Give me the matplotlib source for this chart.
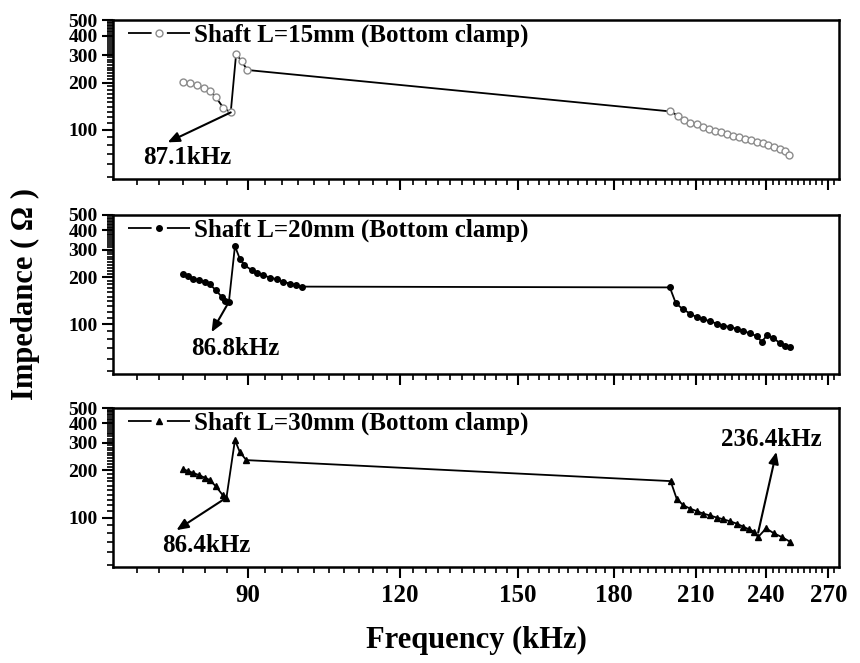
import matplotlib.pyplot as plt
from matplotlib.lines import Line2D
from matplotlib.legend_handler import HandlerTuple
from matplotlib.ticker import NullFormatter

plt.rcParams['font.family'] = ['Liberation Serif', 'DejaVu Serif']
plt.rcParams['font.weight'] = 'bold'
plt.rcParams['lines.scale_dashes'] = False

# Shaft L=15mm
freq_15 = [79.6, 80.6, 81.7, 82.8, 83.7, 84.7, 85.9, 87.1, 88.0, 88.9, 89.9,
           200.0, 203.2, 205.4, 207.8, 210.4, 213.0, 215.4, 217.8, 220.3, 222.7,
           225.5, 227.9, 230.6, 233.1, 235.7, 238.4, 241.0, 243.6, 246.4, 248.7, 250.7]
imp_15 = [203, 198, 193, 185, 178, 161, 138, 129, 307, 274, 241,
          131, 123, 116, 111, 108, 103.5, 101, 98.5, 96, 93.8,
          91.5, 89.8, 87.1, 85.4, 83.8, 81.7, 79.8, 77.8, 75.2, 72.6, 68.8]

# Shaft L=20mm
freq_20 = [79.6, 80.3, 81.1, 82.0, 82.9, 83.7, 84.7, 85.6, 86.2, 86.8, 87.8,
           88.6, 89.4, 90.6, 91.6, 92.6, 93.8, 95.0, 96.2, 97.4, 98.6, 99.7,
           200.0, 202.3, 205.1, 207.8, 210.4, 213.0, 215.8, 218.5, 221.3, 224.1,
           227.0, 229.8, 232.8, 235.7, 238.0, 240.5, 243.3, 246.4, 248.8, 251.1]
imp_20 = [209, 203, 196, 191, 187, 180, 165, 150, 140, 139, 316,
          263, 239, 222, 213, 206, 199, 194, 187, 182, 178, 174,
          172, 136, 124.5, 117, 111, 107.6, 104.5, 101, 98, 96,
          93.5, 90.5, 87.3, 84, 77.3, 85, 81.6, 75.5, 73, 71]

# Shaft L=30mm
freq_30 = [79.6, 80.3, 81.1, 82.0, 82.9, 83.7, 84.7, 85.8, 86.4, 87.8, 88.6, 89.7,
           200.3, 202.6, 205.1, 207.8, 210.4, 213.0, 215.8, 218.5, 221.3, 224.1,
           227.0, 229.8, 232.2, 234.5, 236.4, 240.0, 243.5, 247.2, 251.1]
imp_30 = [203, 199, 193, 187, 180, 174, 158, 139, 134, 313, 263, 233,
          171, 132, 120, 114, 110, 106, 103, 100, 97.5, 94.6,
          91.4, 87.4, 84.2, 81.3, 75.0, 85.2, 79.3, 75.0, 70]

labels = ['Shaft L=15mm (Bottom clamp)',
          'Shaft L=20mm (Bottom clamp)',
          'Shaft L=30mm (Bottom clamp)']

x_major = [90, 120, 150, 180, 210, 240, 270]
x_minor = [72.9, 76.0, 79.6, 83.0, 86.5] + [v for v in range(93, 276, 3) if v not in x_major]
y_major = [100, 200, 300, 400, 500]
y_minor = [v for v in range(50, 500, 10) if v not in y_major]

# (label, arrow tail, arrow head, text centre) in data units
notes_15 = [('87.1kHz', (87.1, 129), (77.3, 83), (80.2, 66))]
notes_20 = [('86.8kHz', (86.8, 139), (84.0, 89), (87.9, 70))]
notes_30 = [('86.4kHz', (86.4, 134), (78.6, 83), (83.1, 66)),
            ('236.4kHz', (236.4, 80), (244.7, 263), (242.5, 318))]

series = [(freq_15, imp_15, notes_15, dict(marker='o', mfc='white', mec='#8c8c8c', ms=5, mew=1)),
          (freq_20, imp_20, notes_20, dict(marker='o', mfc='black', mec='black', ms=4)),
          (freq_30, imp_30, notes_30, dict(marker='^', mfc='black', mec='black', ms=5))]

W, H = 860, 663
left, right = 113, 839
tops = [20.5, 215, 408.3]
ph = 159

fig = plt.figure(figsize=(W / 100, H / 100), dpi=100)

for i, ((f, z, notes, style), label, top) in enumerate(zip(series, labels, tops)):
    ax = fig.add_axes([left / W, 1 - (top + ph) / H, (right - left) / W, ph / H])
    ax.plot(f, z, color='black', lw=1.3, **style)

    ax.set_xscale('log')
    ax.set_yscale('log')
    ax.set_xlim(69.7, 275.5)
    ax.set_ylim(48, 500)

    ax.set_xticks(x_major)
    ax.set_xticks(x_minor, minor=True)
    ax.set_yticks(y_major)
    ax.set_yticks(y_minor, minor=True)
    ax.set_yticklabels([str(v) for v in y_major])
    if i == 2:
        ax.set_xticklabels([str(v) for v in x_major])
    else:
        ax.set_xticklabels([])
    ax.xaxis.set_minor_formatter(NullFormatter())
    ax.yaxis.set_minor_formatter(NullFormatter())

    ax.tick_params(which='both', direction='out', top=False, right=False, width=1.5)
    ax.tick_params(which='major', length=8)
    ax.tick_params(which='minor', length=4, width=1.2)
    ax.tick_params(axis='x', labelsize=18, pad=4)
    ax.tick_params(axis='y', labelsize=14, pad=3)
    for sp in ax.spines.values():
        sp.set_linewidth(1.8)

    # legend key drawn as "— o —": broken line with the symbol in the gap
    key_line = Line2D([], [], color='black', lw=1.3, linestyle=(0, (17, 11, 17, 30)))
    key_mark = Line2D([], [], linestyle='none', **style)
    ax.legend([(key_line, key_mark)], [label], handler_map={tuple: HandlerTuple(ndivide=1)},
              loc='center left', bbox_to_anchor=(0.02, 0.905), frameon=False,
              fontsize=18, handlelength=2.5, handletextpad=0.15,
              borderpad=0, borderaxespad=0)

    for text, tail, head, centre in notes:
        ax.annotate('', xy=head, xytext=tail,
                    arrowprops=dict(arrowstyle='-|>,head_length=0.7,head_width=0.3',
                                    color='black', lw=1.5, shrinkA=0, shrinkB=0))
        ax.text(centre[0], centre[1], text, ha='center', va='center', fontsize=18)

fig.text(25 / W, 1 - 294 / H, 'Impedance ( \u03a9 )', rotation=90,
         ha='center', va='center', fontsize=22)
fig.text((left + right) / 2 / W, 1 - 640 / H, 'Frequency (kHz)',
         ha='center', va='center', fontsize=22)

fig.savefig('out.png', dpi=100)
